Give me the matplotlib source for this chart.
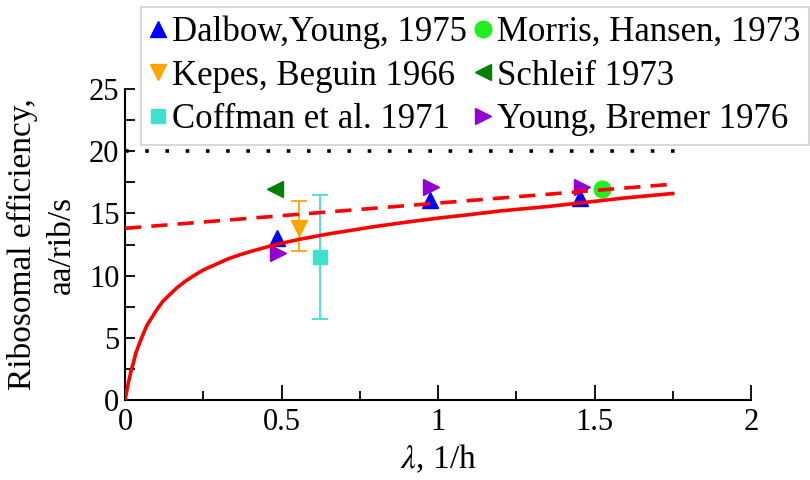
import numpy as np
import matplotlib
matplotlib.use("Agg")
import matplotlib.pyplot as plt

plt.rcParams['font.family'] = ['Liberation Serif', 'DejaVu Serif']
plt.rcParams['mathtext.fontset'] = 'stix'

# experimental points (growth rate, efficiency)
dalbow_x = [0.485, 0.975, 1.455]
dalbow_y = [13.0, 16.1, 16.2]
kepes_x = [0.555]
kepes_y = [13.8]
kepes_lo = [12.0]
kepes_hi = [16.0]
coffman_x = [0.623]
coffman_y = [11.5]
coffman_lo = [6.5]
coffman_hi = [16.5]
morris_x = [1.523]
morris_y = [17.0]
schleif_x = [0.48]
schleif_y = [17.0]
young_x = [0.49, 0.977, 1.459]
young_y = [11.8, 17.1, 17.1]

# model curves
model_x = [0, 0.003, 0.01, 0.015, 0.02, 0.027, 0.035, 0.05, 0.06, 0.07, 0.085,
           0.1, 0.12, 0.14, 0.165, 0.19, 0.22, 0.25, 0.29, 0.33, 0.37, 0.41,
           0.46, 0.5, 0.56, 0.65, 0.8, 0.9, 1.0, 1.1, 1.2, 1.35, 1.5, 1.6, 1.75]
model_y = [0, 0.4, 1.3, 1.85, 2.4, 3.0, 3.8, 4.8, 5.4, 6.0, 6.6,
           7.2, 7.9, 8.4, 9.0, 9.5, 10.0, 10.45, 10.9, 11.35, 11.7, 12.0,
           12.35, 12.6, 12.93, 13.35, 13.95, 14.3, 14.62, 14.9, 15.2, 15.55, 15.97, 16.25, 16.6]
lin_x = [0, 1.75]
lin_y = [13.8, 17.35]
max_x = [0, 1.77]
max_y = [20, 20]

fig = plt.figure(figsize=(8.1, 4.8), dpi=100)
ax = fig.add_axes([125 / 810, 1 - 400 / 480, 626 / 810, 311 / 480])

ms = 11
ax.errorbar(kepes_x, kepes_y,
            yerr=[np.subtract(kepes_y, kepes_lo), np.subtract(kepes_hi, kepes_y)],
            fmt='none', ecolor='orange', elinewidth=1.3, capsize=5.5, capthick=1.3)
ax.errorbar(coffman_x, coffman_y,
            yerr=[np.subtract(coffman_y, coffman_lo), np.subtract(coffman_hi, coffman_y)],
            fmt='none', ecolor='turquoise', elinewidth=1.3, capsize=5.5, capthick=1.3)

h1, = ax.plot(dalbow_x, dalbow_y, '^', color='blue', ms=ms, ls='none', label='Dalbow,Young, 1975')
h2, = ax.plot(kepes_x, kepes_y, 'v', color='orange', ms=ms, ls='none', label='Kepes, Beguin 1966')
h3, = ax.plot(coffman_x, coffman_y, 's', color='turquoise', ms=10.5, ls='none', label='Coffman et al. 1971')
h4, = ax.plot(morris_x, morris_y, 'o', color='#22ee22', ms=12, ls='none', label='Morris, Hansen, 1973')
h5, = ax.plot(schleif_x, schleif_y, '<', color='green', ms=ms, ls='none', label='Schleif 1973')
h6, = ax.plot(young_x, young_y, '>', color='darkviolet', ms=ms, ls='none', label='Young, Bremer 1976')

ax.plot(model_x, model_y, '-', color='red', lw=2.6, zorder=5)
ax.plot(lin_x, lin_y, '--', color='red', lw=2.6, dashes=(4.5, 2.8), zorder=5)
ax.plot(max_x, max_y, ':', color='black', lw=2.6, dashes=(1, 4.6), zorder=5)

ax.set_xlim(0, 2)
ax.set_ylim(0, 25)
ax.set_xticks([0, 0.5, 1, 1.5, 2])
ax.set_xticklabels(['0', '0.5', '1', '1.5', '2'])
ax.set_xticks(np.arange(0, 2.01, 0.25), minor=True)
ax.set_yticks([0, 5, 10, 15, 20, 25])
ax.set_yticks(np.arange(0, 25.1, 2.5), minor=True)
for s in ['top', 'right']:
    ax.spines[s].set_visible(False)
for s in ['left', 'bottom']:
    ax.spines[s].set_linewidth(1.5)
ax.tick_params(which='both', direction='in', width=1.3, labelsize=22)
ax.tick_params(axis='x', which='major', length=11, pad=6)
ax.tick_params(axis='x', which='minor', length=6.5)
ax.tick_params(axis='y', which='both', length=7, pad=4)

ax.set_xlabel(r'$\lambda$, 1/h', fontsize=24, labelpad=4)
ax.set_ylabel('Ribosomal efficiency,\naa/rib/s', fontsize=24, labelpad=9, linespacing=1.35)

leg = fig.legend([h1, h2, h3, h4, h5, h6],
                 [h.get_label() for h in [h1, h2, h3, h4, h5, h6]],
                 loc='upper left', bbox_to_anchor=(141 / 810, 1 - 7 / 480),
                 ncol=2, prop={'family': 'Liberation Serif', 'size': 25},
                 frameon=True, fancybox=False,
                 handlelength=0.5, handletextpad=0.15, columnspacing=0.2,
                 labelspacing=0.3, borderpad=0.25, borderaxespad=0,
                 markerscale=1.0)
leg.get_frame().set_edgecolor('#d0d0d0')
leg.get_frame().set_linewidth(1.5)

fig.savefig('out.png', dpi=100)
